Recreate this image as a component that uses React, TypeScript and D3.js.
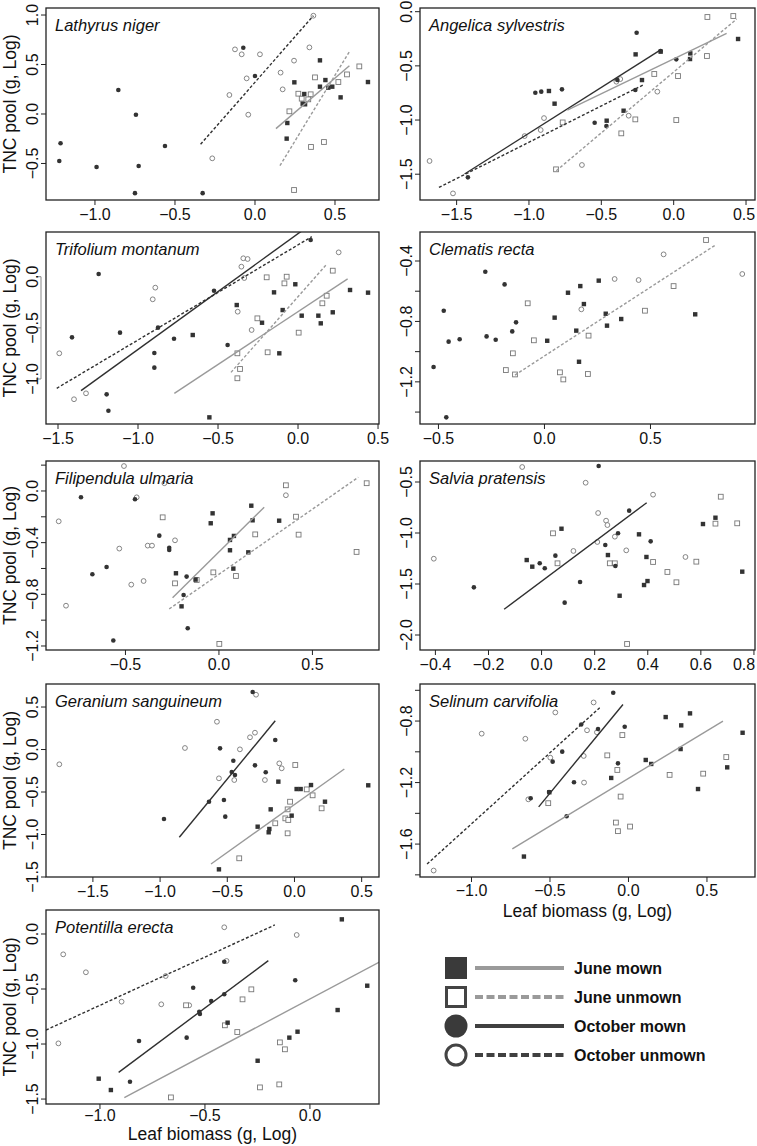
import React from 'react';
import * as d3 from 'd3';

type Pt = [number, number];
type Seg = [number, number, number, number];

// ---------- Lathyrus niger ----------
const lathyrusJuneMown: Pt[] = [[0.406,0.542],[0.246,0.32],[0.44,0.343],[0.406,0.276],[0.483,0.276],[0.308,0.202],[0.298,0.104],[0.313,0.098],[0.458,0.266],[0.535,0.168],[0.706,0.323],[0.202,-0.091],[0.198,-0.249]];
const lathyrusJuneUnmown: Pt[] = [[0.652,0.481],[0.575,0.40],[0.521,0.323],[0.375,0.37],[0.271,0.205],[0.292,0.155],[0.348,0.199],[0.333,0.148],[0.215,0.027],[0.35,-0.333],[0.431,-0.283],[0.244,-0.768]];
const lathyrusOctMown: Pt[] = [[-1.215,-0.296],[-1.223,-0.475],[-0.99,-0.535],[-0.854,0.242],[-0.744,-0.007],[-0.727,-0.525],[-0.75,-0.80],[-0.5625,-0.323],[-0.327,-0.80],[-0.073,0.67],[0.0,0.384]];
const lathyrusOctUnmown: Pt[] = [[-0.125,0.653],[-0.083,0.603],[0.031,0.603],[-0.052,0.36],[-0.16,0.192],[-0.042,-0.007],[-0.267,-0.448],[0.365,0.993],[0.34,0.673],[0.244,0.539],[0.16,0.418],[0.173,0.249]];
const lathyrusFits: Record<string, Seg> = { octUnmown: [-0.34,-0.306,0.365,0.993], juneMown: [0.131,-0.148,0.59,0.488], juneUnmown: [0.156,-0.522,0.59,0.63] };

// ---------- Angelica sylvestris ----------
const angelicaJuneMown: Pt[] = [[-0.862,-0.732],[-0.823,-0.849],[-0.263,-0.394],[-0.219,-0.631],[-0.346,-0.914],[-0.463,-1.006],[-0.09,-0.369],[0.115,-0.385],[0.113,-0.437],[0.445,-0.252]];
const angelicaJuneUnmown: Pt[] = [[-0.767,-1.022],[-0.813,-1.455],[-0.362,-1.123],[-0.265,-0.994],[-0.134,-0.575],[0.03,-0.594],[0.018,-1.0],[0.23,-0.409],[0.233,-0.049],[0.412,-0.04]];
const angelicaOctMown: Pt[] = [[-1.422,-1.529],[-0.956,-0.748],[-0.915,-0.738],[-0.772,-0.717],[-0.256,-0.194],[-0.389,-0.631],[-0.265,-0.723],[-0.09,-0.363],[-0.546,-1.025],[-0.465,-1.055],[0.018,-0.44]];
const angelicaOctUnmown: Pt[] = [[-1.687,-1.378],[-1.525,-1.677],[-1.03,-1.148],[-0.919,-1.092],[-0.896,-0.982],[-0.634,-1.415],[-0.396,-0.646],[-0.369,-0.622],[-0.311,-0.96],[-0.113,-0.738]];
const angelicaFits: Record<string, Seg> = { octMown: [-1.445,-1.498,-0.085,-0.348], octUnmown: [-1.622,-1.622,-0.212,-0.677], juneMown: [-0.735,-0.908,0.366,-0.2], juneUnmown: [-0.811,-1.468,0.435,-0.068] };

// ---------- Trifolium montanum ----------
const trifoliumJuneMown: Pt[] = [[-0.658,-0.57],[-0.383,-0.277],[-0.225,-0.45],[-0.15,-0.153],[-0.096,-0.326],[-0.017,-0.074],[0.023,-0.381],[0.127,-0.381],[0.142,-0.456],[0.217,-0.348],[0.325,-0.13],[0.4375,-0.156],[-0.117,-0.749],[-0.554,-1.375]];
const trifoliumJuneUnmown: Pt[] = [[-0.196,-0.006],[-0.071,0.0],[-0.085,-0.065],[0.217,0.059],[0.179,-0.186],[0.152,-0.26],[-0.254,-0.407],[0.004,-0.547],[-0.19,-0.739],[-0.379,-0.749],[-0.3625,-0.902],[-0.379,-0.993]];
const trifoliumOctMown: Pt[] = [[-1.246,0.026],[-1.4125,-0.593],[-1.1125,-0.547],[-0.875,-0.498],[-0.775,-0.606],[-0.898,-0.746],[-0.898,-0.889],[-1.196,-1.15],[-1.185,-1.31],[-0.525,-0.137],[-0.44,-0.668],[0.079,0.359]];
const trifoliumOctUnmown: Pt[] = [[-1.492,-0.749],[-1.4,-1.198],[-1.325,-1.14],[-0.892,-0.107],[-0.908,-0.221],[-0.377,-0.342],[-0.342,0.18],[-0.315,0.173],[-0.354,0.098],[-0.336,-0.013],[-0.29,-0.521],[0.254,0.238]];
const trifoliumFits: Record<string, Seg> = { octMown: [-1.356,-1.114,0.03,0.455], octUnmown: [-1.508,-1.091,0.086,0.391], juneMown: [-0.773,-1.14,0.31,-0.022], juneUnmown: [-0.419,-0.935,0.179,0.121] };

// ---------- Clematis recta ----------
const clematisJuneMown: Pt[] = [[0.256,-0.53],[0.169,-0.566],[0.111,-0.61],[0.186,-0.685],[0.048,-0.775],[0.289,-0.749],[0.362,-0.784],[0.295,-0.828],[0.15,-0.861],[0.013,-0.928],[0.163,-1.067],[0.711,-0.753]];
const clematisJuneUnmown: Pt[] = [[0.762,-0.261],[0.609,-0.566],[0.474,-0.729],[-0.079,-0.68],[-0.05,-0.925],[0.208,-0.894],[-0.149,-1.011],[-0.182,-1.122],[-0.139,-1.151],[0.073,-1.137],[0.089,-1.184],[0.205,-1.148]];
const clematisOctMown: Pt[] = [[-0.279,-0.471],[-0.188,-0.555],[-0.475,-0.729],[-0.134,-0.806],[-0.152,-0.866],[-0.273,-0.899],[-0.23,-0.921],[-0.4,-0.918],[-0.452,-0.934],[-0.523,-1.102],[-0.463,-1.435]];
const clematisOctUnmown: Pt[] = [[0.562,-0.356],[0.331,-0.519],[0.444,-0.526],[0.933,-0.486],[0.174,-0.72]];
const clematisFits: Record<string, Seg> = { juneUnmown: [-0.139,-1.155,0.807,-0.294] };

// ---------- Filipendula ulmaria ----------
const filipendulaJuneMown: Pt[] = [[-0.044,-0.25],[-0.034,-0.173],[0.173,-0.114],[0.18,-0.227],[0.322,-0.23],[0.059,-0.379],[0.08,-0.348],[0.059,-0.459],[0.077,-0.601],[0.157,-0.475],[-0.23,-0.637],[-0.125,-0.686],[-0.2,-0.893]];
const filipendulaJuneUnmown: Pt[] = [[-0.301,-0.204],[-0.235,-0.715],[-0.119,-0.689],[-0.03,-0.63],[0.091,-0.658],[0.194,-0.336],[0.358,0.044],[0.412,-0.199],[0.426,-0.338],[0.79,0.06],[0.736,-0.472],[0.002,-1.184]];
const filipendulaOctMown: Pt[] = [[-0.738,-0.049],[-0.449,-0.064],[-0.677,-0.645],[-0.601,-0.588],[-0.565,-1.158],[-0.319,-0.346],[-0.266,-0.439],[-0.266,-0.457],[-0.173,-0.663],[-0.189,-0.805],[-0.167,-1.063]];
const filipendulaOctUnmown: Pt[] = [[-0.508,0.193],[-0.292,0.06],[-0.857,-0.235],[-0.44,-0.049],[-0.533,-0.446],[-0.381,-0.423],[-0.358,-0.423],[-0.235,-0.382],[-0.403,-0.697],[-0.469,-0.725],[-0.818,-0.888],[0.358,-0.033]];
const filipendulaFits: Record<string, Seg> = { juneMown: [-0.248,-0.826,0.242,-0.126], juneUnmown: [-0.266,-0.913,0.745,0.106] };

// ---------- Salvia pratensis ----------
const salviaJuneMown: Pt[] = [[-0.056,-1.265],[-0.035,-1.33],[0.075,-0.958],[0.25,-1.216],[0.367,-1.013],[0.395,-1.235],[0.386,-1.51],[0.399,-1.471],[0.294,-1.615],[0.608,-0.912],[0.655,-0.85],[0.756,-1.379]];
const salviaJuneUnmown: Pt[] = [[0.043,-1.003],[0.06,-1.297],[0.257,-1.297],[0.276,-1.297],[0.42,-1.284],[0.474,-1.382],[0.508,-1.483],[0.583,-1.281],[0.655,-0.908],[0.737,-0.905],[0.675,-0.644],[0.322,-2.088]];
const salviaOctMown: Pt[] = [[-0.255,-1.533],[-0.007,-1.297],[0.012,-1.346],[0.052,-1.222],[0.087,-1.683],[0.145,-1.48],[0.215,-0.343],[0.24,-1.118],[0.288,-1.003],[0.278,-1.324],[0.33,-0.781],[0.411,-1.082]];
const salviaOctUnmown: Pt[] = [[-0.406,-1.252],[-0.073,-0.353],[0.166,-0.507],[0.42,-0.624],[0.213,-0.804],[0.243,-0.879],[0.248,-0.922],[0.276,-1.036],[0.21,-1.088],[0.12,-1.176],[0.319,-1.17],[0.542,-1.235]];
const salviaFits: Record<string, Seg> = { octMown: [-0.141,-1.748,0.396,-0.703] };

// ---------- Geranium sanguineum ----------
const geraniumJuneMown: Pt[] = [[-0.562,-1.41],[-0.274,-0.908],[-0.177,-0.704],[-0.187,-0.935],[-0.192,-0.974],[-0.12,-0.378],[-0.021,-0.778],[0.016,-0.465],[0.046,-0.465],[0.123,-0.418],[0.227,-0.614],[0.549,-0.421]];
const geraniumJuneUnmown: Pt[] = [[-0.411,-1.28],[-0.143,-0.868],[-0.068,-0.81],[-0.046,-0.829],[-0.051,-0.704],[-0.033,-0.614],[-0.051,-0.986],[0.006,-0.182],[0.091,-0.469],[0.135,-0.539],[0.202,-0.692]];
const geraniumOctMown: Pt[] = [[-0.971,-0.818],[-0.636,-0.614],[-0.525,-0.594],[-0.515,-0.79],[-0.554,0.014],[-0.455,-0.132],[-0.467,-0.265],[-0.443,-0.3],[-0.311,0.676],[-0.294,-0.186],[-0.214,-0.268],[-0.143,0.112]];
const geraniumOctUnmown: Pt[] = [[-1.75,-0.174],[-0.815,0.018],[-0.577,0.327],[-0.562,-0.339],[-0.406,0.002],[-0.448,-0.359],[-0.331,0.144],[-0.294,0.198],[-0.286,0.645],[-0.22,-0.359],[-0.113,-0.163],[-0.095,-0.221]];
const geraniumFits: Record<string, Seg> = { octMown: [-0.857,-1.033,-0.143,0.339], juneMown: [-0.621,-1.347,0.371,-0.229] };

// ---------- Selinum carvifolia ----------
const selinumJuneMown: Pt[] = [[-0.666,-1.681],[-0.504,-1.263],[-0.11,-1.17],[0.11,-1.053],[0.145,-1.079],[0.237,-0.774],[0.336,-0.828],[0.392,-0.75],[0.332,-0.982],[0.443,-1.242],[0.727,-0.876],[0.629,-1.101]];
const selinumJuneUnmown: Pt[] = [[-0.039,-0.891],[-0.135,-1.023],[-0.071,-1.118],[-0.511,-1.334],[-0.05,-1.291],[-0.08,-1.46],[-0.067,-1.516],[0.01,-1.486],[0.262,-1.15],[0.476,-1.142],[0.623,-1.034]];
const selinumOctMown: Pt[] = [[-0.097,-0.616],[-0.024,-0.837],[-0.194,-0.852],[-0.301,-0.822],[-0.422,-0.999],[-0.483,-1.064],[-0.067,-1.075],[-0.347,-1.198],[-0.623,-1.302],[-0.506,-1.261],[-0.394,-1.419]];
const selinumOctUnmown: Pt[] = [[-0.935,-0.882],[-0.657,-0.915],[-0.466,-0.744],[-0.222,-0.679],[-0.264,-0.86],[-0.201,-0.873],[-0.498,-1.038],[-0.285,-1.027],[-0.283,-1.2],[-0.638,-1.309],[-1.241,-1.772]];
const selinumFits: Record<string, Seg> = { octUnmown: [-1.283,-1.73,-0.183,-0.713], octMown: [-0.572,-1.358,-0.035,-0.692], juneMown: [-0.74,-1.631,0.602,-0.8] };

// ---------- Potentilla erecta ----------
const potentillaJuneMown: Pt[] = [[-1.006,-1.315],[-0.948,-1.418],[-0.392,-0.806],[-0.249,-1.152],[-0.098,-0.942],[-0.059,-0.888],[0.132,-0.691],[0.152,0.133],[0.273,-0.47]];
const potentillaJuneUnmown: Pt[] = [[-0.59,-0.648],[-0.405,-0.83],[-0.321,-0.594],[-0.279,-0.503],[-0.346,-0.891],[-0.143,-0.985],[-0.119,-1.048],[-0.238,-1.394],[-0.146,-1.367],[-0.662,-1.485]];
const potentillaOctMown: Pt[] = [[-0.408,-0.252],[-0.556,-0.488],[-0.408,-0.548],[-0.47,-0.609],[-0.527,-0.706],[-0.524,-0.727],[-0.587,-0.942],[-0.814,-0.973],[-0.857,-1.343],[-0.07,-0.421]];
const potentillaOctUnmown: Pt[] = [[-1.175,-0.185],[-1.067,-0.348],[-0.897,-0.615],[-0.687,-0.382],[-0.708,-0.639],[-1.198,-0.994],[-0.575,-0.648],[-0.408,0.061],[-0.397,-0.245],[-0.063,-0.009]];
const potentillaFits: Record<string, Seg> = { octUnmown: [-1.257,-0.873,-0.167,0.082], octMown: [-0.911,-1.258,-0.198,-0.242], juneMown: [-0.884,-1.488,0.34,-0.245] };

// ---------- tick values ----------
const ticksX1 = [-1.0, -0.5, 0.0, 0.5];
const ticksX2 = [-1.5, -1.0, -0.5, 0.0, 0.5];
const ticksX4 = [-0.5, 0.0, 0.5];
const ticksX6 = [-0.4, -0.2, 0.0, 0.2, 0.4, 0.6, 0.8];
const ticksX9 = [-1.0, -0.5, 0.0];
const ticksY1 = [-0.5, 0.0, 0.5, 1.0];
const ticksY2 = [-1.5, -1.0, -0.5, 0.0];
const ticksY3 = [-1.0, -0.5, 0.0];
const ticksY4 = [-1.4, -1.2, -1.0, -0.8, -0.6, -0.4];
const labelsY4 = [-1.2, -0.8, -0.4];
const ticksY5 = [-1.2, -1.0, -0.8, -0.6, -0.4, -0.2, 0.0, 0.2];
const labelsY5 = [-1.2, -0.8, -0.4, 0.0];
const ticksY6 = [-2.0, -1.5, -1.0, -0.5];
const ticksY7 = [-1.5, -1.0, -0.5, 0.0, 0.5];
const ticksY8 = [-1.8, -1.6, -1.4, -1.2, -1.0, -0.8, -0.6];
const labelsY8 = [-1.6, -1.2, -0.8];
const ticksY9 = [-1.5, -1.0, -0.5, 0.0];

const legendLabels = ['June mown', 'June unmown', 'October mown', 'October unmown'];

// ---------- layout ----------
const COLS: [number, number][] = [[46, 379], [420, 755]];
const ROWS: [number, number][] = [[8, 200], [232, 424], [461, 650], [684, 877], [910, 1104]];
const FONT = '"Liberation Sans", Arial, Helvetica, sans-serif';
const FILL_DARK = '#333333';
const OPEN_GRAY = '#777777';
const LINE_GRAY = '#9a9a9a';
const LINE_DARK = '#303030';
const PAGE_W = 757;

interface Panel {
  name: string; col: number; row: number;
  xDom: [number, number]; yDom: [number, number];
  xTicks: number[]; yTicks: number[]; yLabels?: number[];
  jm: Pt[]; ju: Pt[]; om: Pt[]; ou: Pt[];
  fits: Record<string, Seg>;
  bracket?: boolean;
  xLabelOffset?: number;
}

const panels: Panel[] = [
  { name: 'Lathyrus niger', col: 0, row: 0, xDom: [-1.306, 0.775], yDom: [-0.869, 1.071], xTicks: ticksX1, yTicks: ticksY1,
    jm: lathyrusJuneMown, ju: lathyrusJuneUnmown, om: lathyrusOctMown, ou: lathyrusOctUnmown, fits: lathyrusFits },
  { name: 'Angelica sylvestris', col: 1, row: 0, xDom: [-1.753, 0.562], yDom: [-1.738, 0.034], xTicks: ticksX2, yTicks: ticksY2,
    jm: angelicaJuneMown, ju: angelicaJuneUnmown, om: angelicaOctMown, ou: angelicaOctUnmown, fits: angelicaFits },
  { name: 'Trifolium montanum', col: 0, row: 1, xDom: [-1.575, 0.506], yDom: [-1.44, 0.437], xTicks: ticksX2, yTicks: ticksY3,
    jm: trifoliumJuneMown, ju: trifoliumJuneUnmown, om: trifoliumOctMown, ou: trifoliumOctUnmown, fits: trifoliumFits, bracket: true },
  { name: 'Clematis recta', col: 1, row: 1, xDom: [-0.587, 0.993], yDom: [-1.479, -0.208], xTicks: ticksX4, yTicks: ticksY4, yLabels: labelsY4,
    jm: clematisJuneMown, ju: clematisJuneUnmown, om: clematisOctMown, ou: clematisOctUnmown, fits: clematisFits },
  { name: 'Filipendula ulmaria', col: 0, row: 2, xDom: [-0.925, 0.856], yDom: [-1.231, 0.232], xTicks: ticksX4, yTicks: ticksY5, yLabels: labelsY5,
    jm: filipendulaJuneMown, ju: filipendulaJuneUnmown, om: filipendulaOctMown, ou: filipendulaOctUnmown, fits: filipendulaFits },
  { name: 'Salvia pratensis', col: 1, row: 2, xDom: [-0.458, 0.804], yDom: [-2.147, -0.294], xTicks: ticksX6, yTicks: ticksY6,
    jm: salviaJuneMown, ju: salviaJuneUnmown, om: salviaOctMown, ou: salviaOctUnmown, fits: salviaFits },
  { name: 'Geranium sanguineum', col: 0, row: 3, xDom: [-1.849, 0.629], yDom: [-1.5, 0.771], xTicks: ticksX2, yTicks: ticksY7,
    jm: geraniumJuneMown, ju: geraniumJuneUnmown, om: geraniumOctMown, ou: geraniumOctUnmown, fits: geraniumFits },
  { name: 'Selinum carvifolia', col: 1, row: 3, xDom: [-1.328, 0.806], yDom: [-1.814, -0.559], xTicks: ticksX1, yTicks: ticksY8, yLabels: labelsY8,
    jm: selinumJuneMown, ju: selinumJuneUnmown, om: selinumOctMown, ou: selinumOctUnmown, fits: selinumFits, xLabelOffset: 19 },
  { name: 'Potentilla erecta', col: 0, row: 4, xDom: [-1.257, 0.329], yDom: [-1.545, 0.218], xTicks: ticksX9, yTicks: ticksY9,
    jm: potentillaJuneMown, ju: potentillaJuneUnmown, om: potentillaOctMown, ou: potentillaOctUnmown, fits: potentillaFits, xLabelOffset: 17 },
];

const fitStyle: Record<string, { stroke: string; dash?: string }> = {
  juneMown: { stroke: LINE_GRAY },
  juneUnmown: { stroke: LINE_GRAY, dash: '3,2' },
  octMown: { stroke: LINE_DARK },
  octUnmown: { stroke: LINE_DARK, dash: '3,2' },
};

const fmt = d3.format('.1f');

function PanelView({ p, idx }: { p: Panel; idx: number }) {
  const [x0, x1] = COLS[p.col];
  const [y0, y1] = ROWS[p.row];
  const xs = d3.scaleLinear().domain(p.xDom).range([x0, x1]);
  const ys = d3.scaleLinear().domain(p.yDom).range([y1, y0]);
  const clip = `clip-${idx}`;
  const labels = p.yLabels ?? p.yTicks;
  const xOff = p.xLabelOffset ?? 20;
  return (
    <g>
      <defs>
        <clipPath id={clip}><rect x={x0} y={y0} width={x1 - x0} height={y1 - y0} /></clipPath>
      </defs>
      <g clipPath={`url(#${clip})`}>
        {p.ou.map((d, i) => (
          <circle key={'ou' + i} cx={xs(d[0])} cy={ys(d[1])} r={2.4} fill="white" stroke={OPEN_GRAY} strokeWidth={0.9} />
        ))}
        {p.ju.map((d, i) => (
          <rect key={'ju' + i} x={xs(d[0]) - 2.4} y={ys(d[1]) - 2.4} width={4.8} height={4.8} fill="white" stroke={OPEN_GRAY} strokeWidth={0.9} />
        ))}
        {p.om.map((d, i) => (
          <circle key={'om' + i} cx={xs(d[0])} cy={ys(d[1])} r={2.3} fill={FILL_DARK} />
        ))}
        {p.jm.map((d, i) => (
          <rect key={'jm' + i} x={xs(d[0]) - 2.2} y={ys(d[1]) - 2.2} width={4.4} height={4.4} fill={FILL_DARK} />
        ))}
        {Object.entries(p.fits).map(([k, s]) => (
          <line key={k} x1={xs(s[0])} y1={ys(s[1])} x2={xs(s[2])} y2={ys(s[3])}
            stroke={fitStyle[k].stroke} strokeWidth={1.4} strokeDasharray={fitStyle[k].dash} />
        ))}
      </g>
      <rect x={x0} y={y0} width={x1 - x0} height={y1 - y0} fill="none" stroke="#222" strokeWidth={1.3} />
      {p.xTicks.map((t) => (
        <g key={'xt' + t}>
          <line x1={xs(t)} x2={xs(t)} y1={y1} y2={y1 + 5} stroke="#222" strokeWidth={1} />
          <text x={Math.min(xs(t), PAGE_W - 13)} y={y1 + xOff} textAnchor="middle" fontSize={16} fontFamily={FONT} fill="#111">{fmt(t)}</text>
        </g>
      ))}
      {p.bracket && (
        <line x1={x0 - 5} x2={x0 - 5} y1={ys(p.yTicks[0])} y2={ys(p.yTicks[p.yTicks.length - 1])} stroke="#888" strokeWidth={1} />
      )}
      {p.yTicks.map((t) => (
        <line key={'yt' + t} x1={p.bracket ? x0 - 10 : x0 - 5} x2={p.bracket ? x0 - 5 : x0} y1={ys(t)} y2={ys(t)} stroke={p.bracket ? '#888' : '#222'} strokeWidth={1} />
      ))}
      {labels.map((t) => (
        <text key={'yl' + t} transform={`translate(${x0 - 8},${ys(t)}) rotate(-90)`} textAnchor="middle" fontSize={16} fontFamily={FONT} fill="#111">{fmt(t)}</text>
      ))}
      <text x={x0 + 9} y={y0 + 23} fontSize={16.5} fontStyle="italic" fontFamily={FONT} fill="#111">{p.name}</text>
      {p.col === 0 && (
        <text transform={`translate(16,${(y0 + y1) / 2}) rotate(-90)`} textAnchor="middle" fontSize={17.5} fontFamily={FONT} fill="#111">TNC pool (g, Log)</text>
      )}
    </g>
  );
}

function Legend() {
  const rowY = d3.scaleLinear().domain([0, 3]).range([968, 1055]);
  return (
    <g>
      {legendLabels.map((lab, i) => {
        const y = rowY(i);
        const isJune = i < 2;
        const filled = i % 2 === 0;
        const lineColor = isJune ? '#9a9a9a' : '#404040';
        return (
          <g key={lab}>
            {isJune ? (
              filled ? <rect x={445} y={y - 11} width={22} height={22} fill="#3a3a3a" />
                : <rect x={446.5} y={y - 9.5} width={19} height={19} fill="white" stroke="#444" strokeWidth={3} />
            ) : (
              filled ? <circle cx={456} cy={y} r={11.5} fill="#3a3a3a" />
                : <circle cx={456} cy={y} r={10} fill="white" stroke="#444" strokeWidth={3} />
            )}
            <line x1={475} x2={564} y1={y} y2={y} stroke={lineColor} strokeWidth={4} strokeDasharray={filled ? undefined : '8,3.5'} />
            <text x={574} y={y} dominantBaseline="central" fontSize={16} fontWeight="bold" fontFamily={FONT} fill="#111">{lab}</text>
          </g>
        );
      })}
    </g>
  );
}

export default function App() {
  return (
    <svg width={757} height={1146} style={{ position: 'absolute', left: 0, top: 0, background: 'white' }}>
      <rect x={0} y={0} width={757} height={1146} fill="white" />
      {panels.map((p, i) => <PanelView key={p.name} p={p} idx={i} />)}
      <text x={(COLS[1][0] + COLS[1][1]) / 2} y={917} textAnchor="middle" fontSize={17.5} fontFamily={FONT} fill="#111">Leaf biomass (g, Log)</text>
      <text x={(COLS[0][0] + COLS[0][1]) / 2} y={1140} textAnchor="middle" fontSize={17.5} fontFamily={FONT} fill="#111">Leaf biomass (g, Log)</text>
      <Legend />
    </svg>
  );
}
